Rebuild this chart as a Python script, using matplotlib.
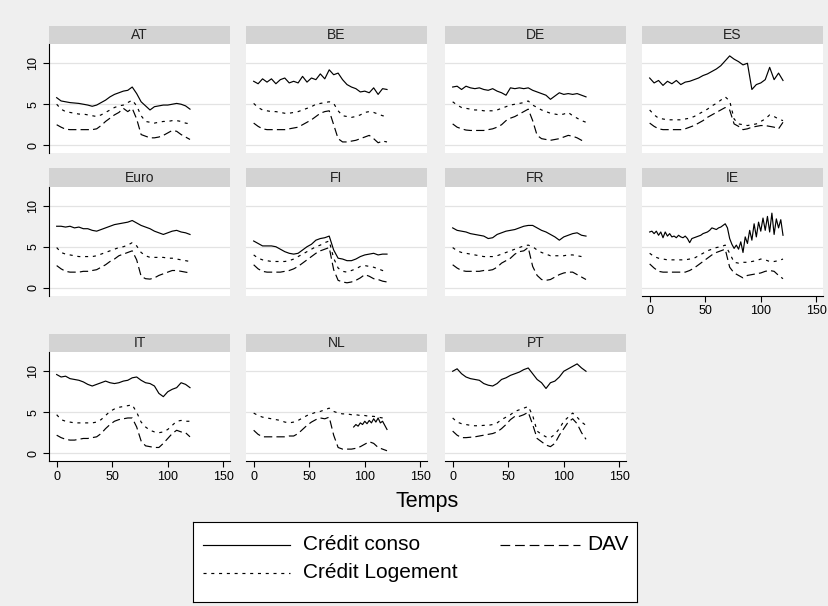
import matplotlib
matplotlib.use("Agg")
import matplotlib.pyplot as plt
import numpy as np

plt.rcParams['font.family'] = ['Liberation Sans', 'DejaVu Sans']
plt.rcParams['lines.scale_dashes'] = False

# ---------------- data ----------------
T4 = list(range(0, 121, 4))
T2 = list(range(0, 121, 2))
NL_T_CONSO = list(range(90, 121, 2))

countries = ["AT", "BE", "DE", "ES", "Euro", "FI", "FR", "IE", "IT", "NL", "PT"]

conso = {
    "AT": [5.8, 5.4, 5.3, 5.2, 5.15, 5.1, 5.0, 4.9, 4.75, 4.9, 5.2, 5.5, 5.9, 6.2, 6.4, 6.6,
           6.7, 7.1, 6.3, 5.3, 4.8, 4.3, 4.7, 4.8, 4.9, 4.9, 5.0, 5.1, 5.0, 4.8, 4.4],
    "BE": [7.8, 7.5, 8.1, 7.7, 8.1, 7.5, 8.0, 8.2, 7.6, 7.8, 7.6, 8.4, 7.7, 8.2, 8.0, 8.7,
           8.1, 9.2, 8.6, 8.8, 8.0, 7.4, 7.1, 6.9, 6.5, 6.6, 6.4, 7.0, 6.2, 6.9, 6.8],
    "DE": [7.1, 7.2, 6.8, 7.2, 7.0, 6.9, 7.0, 6.8, 6.7, 6.9, 6.6, 6.4, 6.1, 7.0, 6.9, 7.0,
           6.9, 7.0, 6.7, 6.5, 6.3, 6.1, 5.6, 6.0, 6.4, 6.2, 6.3, 6.2, 6.3, 6.1, 5.9],
    "ES": [8.2, 7.6, 7.9, 7.3, 7.8, 7.5, 7.9, 7.4, 7.7, 7.8, 8.0, 8.2, 8.5, 8.7, 9.0, 9.3,
           9.7, 10.3, 10.9, 10.5, 10.2, 9.8, 10.0, 6.8, 7.4, 7.6, 8.0, 9.5, 8.0, 8.8, 7.9],
    "Euro": [7.5, 7.5, 7.4, 7.5, 7.3, 7.4, 7.2, 7.2, 7.0, 6.9, 7.1, 7.3, 7.5, 7.7, 7.8, 7.9,
             8.0, 8.2, 7.9, 7.6, 7.4, 7.2, 6.9, 6.7, 6.5, 6.7, 6.9, 7.0, 6.8, 6.7, 6.5],
    "FI": [5.7, 5.4, 5.1, 5.1, 5.1, 5.0, 4.7, 4.4, 4.2, 4.1, 4.2, 4.6, 5.0, 5.3, 5.8, 6.0,
           6.1, 6.3, 4.6, 3.6, 3.5, 3.3, 3.3, 3.5, 3.8, 4.0, 4.1, 4.2, 4.0, 4.1, 4.1],
    "FR": [7.3, 7.0, 6.9, 6.8, 6.6, 6.5, 6.4, 6.3, 6.0, 6.1, 6.5, 6.7, 6.9, 7.0, 7.1, 7.3,
           7.5, 7.6, 7.6, 7.3, 7.0, 6.8, 6.5, 6.2, 5.8, 6.2, 6.4, 6.6, 6.7, 6.4, 6.3],
    "IT": [9.6, 9.3, 9.4, 9.1, 9.0, 8.9, 8.7, 8.4, 8.2, 8.4, 8.6, 8.8, 8.6, 8.5, 8.6, 8.8,
           8.9, 9.2, 9.3, 8.9, 8.6, 8.5, 8.2, 7.3, 6.9, 7.5, 7.8, 8.0, 8.6, 8.4, 8.0],
    "PT": [10.0, 10.3, 9.7, 9.3, 9.1, 9.0, 8.9, 8.5, 8.3, 8.2, 8.5, 9.0, 9.2, 9.5, 9.7, 9.9,
           10.2, 10.4, 9.7, 9.0, 8.6, 7.9, 8.6, 8.8, 9.3, 10.0, 10.3, 10.6, 10.9, 10.4, 10.0],
}
# Ireland consumer credit is much noisier: read every 2 months
conso_IE = [6.8, 6.9, 6.6, 6.9, 6.4, 6.8, 6.1, 6.8, 6.3, 6.6, 6.2, 6.3, 6.1, 6.4, 6.2, 6.1,
            6.3, 6.0, 5.5, 6.0, 6.1, 6.2, 6.3, 6.4, 6.6, 6.7, 6.8, 7.0, 7.3, 7.2, 7.1, 7.3,
            7.4, 7.6, 7.8, 7.3, 6.0, 5.3, 4.8, 5.2, 4.7, 5.6, 4.3, 6.2, 5.4, 7.0, 5.8, 7.8,
            6.2, 8.0, 6.9, 8.5, 7.0, 8.7, 6.8, 9.1, 6.5, 8.4, 7.3, 8.3, 6.4]
# Netherlands consumer credit only available from t = 90
conso_NL = [3.2, 3.5, 3.3, 3.7, 3.5, 3.9, 3.6, 4.0, 3.7, 4.2, 3.8, 4.3, 3.7, 3.9, 3.4, 2.9]

logement = {
    "AT": [5.0, 4.4, 4.1, 4.0, 3.9, 3.8, 3.8, 3.7, 3.6, 3.5, 3.7, 4.0, 4.3, 4.6, 4.8, 4.9,
           5.2, 5.5, 4.8, 3.6, 2.9, 2.8, 2.7, 2.8, 2.9, 2.9, 3.0, 3.0, 2.9, 2.7, 2.6],
    "BE": [5.1, 4.6, 4.3, 4.2, 4.1, 4.1, 4.0, 3.9, 3.9, 4.0, 4.1, 4.3, 4.5, 4.7, 5.0, 5.1,
           5.2, 5.3, 5.1, 4.2, 3.6, 3.5, 3.4, 3.5, 3.7, 4.0, 4.1, 4.0, 3.8, 3.6, 3.5],
    "DE": [5.3, 4.9, 4.6, 4.5, 4.4, 4.3, 4.3, 4.2, 4.2, 4.2, 4.3, 4.5, 4.7, 4.9, 5.0, 5.1,
           5.2, 5.4, 4.9, 4.6, 4.3, 4.1, 3.9, 3.8, 3.7, 3.8, 4.0, 3.6, 3.3, 3.0, 2.8],
    "ES": [4.3, 3.7, 3.3, 3.2, 3.1, 3.1, 3.1, 3.1, 3.2, 3.3, 3.5, 3.8, 4.1, 4.4, 4.8, 5.1,
           5.5, 5.9, 5.4, 3.2, 2.6, 2.5, 2.4, 2.5, 2.6, 2.9, 3.2, 3.7, 3.5, 3.2, 3.0],
    "Euro": [4.9, 4.3, 4.1, 4.0, 3.9, 3.8, 3.8, 3.8, 3.8, 3.9, 4.1, 4.3, 4.5, 4.7, 4.9, 5.0,
             5.2, 5.5, 5.1, 4.3, 3.9, 3.7, 3.7, 3.7, 3.7, 3.6, 3.6, 3.5, 3.4, 3.3, 3.2],
    "FI": [4.0, 3.6, 3.4, 3.3, 3.2, 3.2, 3.2, 3.2, 3.3, 3.5, 3.8, 4.1, 4.4, 4.7, 5.0, 5.2,
           5.5, 5.7, 3.6, 2.4, 2.0, 1.9, 2.1, 2.3, 2.6, 2.7, 2.6, 2.5, 2.3, 2.1, 1.9],
    "FR": [4.9, 4.5, 4.3, 4.2, 4.1, 4.0, 3.9, 3.8, 3.8, 3.8, 3.9, 4.1, 4.3, 4.5, 4.7, 4.9,
           5.1, 5.2, 5.0, 4.6, 4.3, 4.1, 3.9, 3.9, 3.9, 3.9, 4.0, 4.0, 3.9, 3.8, 3.7],
    "IE": [4.2, 3.8, 3.6, 3.5, 3.4, 3.4, 3.4, 3.4, 3.4, 3.5, 3.6, 3.9, 4.2, 4.5, 4.7, 4.9,
           5.0, 5.2, 4.2, 3.1, 3.0, 3.1, 3.1, 3.2, 3.3, 3.5, 3.4, 3.2, 3.2, 3.3, 3.5],
    "IT": [4.7, 4.1, 3.9, 3.8, 3.7, 3.7, 3.7, 3.7, 3.7, 3.8, 4.1, 4.6, 5.1, 5.4, 5.6, 5.7,
           5.8, 5.9, 5.0, 3.8, 3.2, 2.8, 2.6, 2.5, 2.6, 2.9, 3.4, 3.9, 4.0, 3.9, 3.9],
    "NL": [4.9, 4.6, 4.4, 4.3, 4.2, 4.1, 4.0, 3.8, 3.7, 3.8, 4.0, 4.3, 4.6, 4.8, 5.0, 5.1,
           5.3, 5.5, 5.1, 4.9, 4.8, 4.8, 4.7, 4.7, 4.6, 4.6, 4.5, 4.5, 4.4, 4.3, 4.1],
    "PT": [4.3, 3.8, 3.6, 3.5, 3.4, 3.35, 3.35, 3.4, 3.4, 3.5, 3.7, 4.1, 4.4, 4.7, 5.1, 5.3,
           5.5, 5.7, 4.6, 2.7, 2.3, 2.0, 1.9, 2.3, 3.0, 3.9, 4.4, 4.9, 4.4, 3.8, 3.4],
}

dav = {
    "AT": [2.5, 2.2, 1.95, 1.9, 1.9, 1.9, 1.9, 1.9, 1.9, 2.0, 2.4, 2.9, 3.3, 3.7, 4.0, 4.5,
           4.1, 4.5, 3.2, 1.3, 1.1, 0.9, 0.9, 1.0, 1.2, 1.5, 1.8, 1.7, 1.3, 1.0, 0.7],
    "BE": [2.7, 2.3, 2.0, 1.9, 1.9, 1.9, 1.9, 1.9, 2.0, 2.1, 2.2, 2.5, 2.8, 3.1, 3.5, 3.9,
           4.1, 4.2, 2.5, 0.8, 0.4, 0.4, 0.5, 0.6, 0.8, 1.0, 1.2, 0.8, 0.3, 0.5, 0.4],
    "DE": [2.6, 2.2, 2.0, 1.85, 1.8, 1.8, 1.8, 1.8, 1.9, 2.0, 2.2, 2.5, 3.0, 3.3, 3.5, 3.8,
           4.1, 4.4, 3.0, 1.2, 0.8, 0.7, 0.6, 0.7, 0.8, 1.0, 1.2, 1.1, 0.9, 0.6, 0.4],
    "ES": [2.7, 2.3, 2.0, 1.9, 1.9, 1.9, 1.9, 1.9, 2.0, 2.2, 2.4, 2.7, 3.0, 3.4, 3.7, 4.0,
           4.3, 4.6, 4.3, 2.6, 2.3, 1.9, 2.0, 2.2, 2.3, 2.4, 2.4, 2.3, 2.2, 2.0, 2.8],
    "Euro": [2.7, 2.3, 2.0, 1.9, 1.9, 1.9, 2.0, 2.0, 2.1, 2.2, 2.5, 2.8, 3.2, 3.5, 3.9, 4.1,
             4.3, 4.5, 3.4, 1.4, 1.1, 1.05, 1.2, 1.5, 1.7, 1.9, 2.1, 2.1, 2.0, 1.9, 1.8],
    "FI": [2.8, 2.3, 2.0, 1.9, 1.9, 1.9, 1.9, 2.0, 2.1, 2.3, 2.6, 3.0, 3.4, 3.8, 4.2, 4.5,
           4.7, 4.9, 2.2, 0.9, 0.7, 0.6, 0.7, 0.9, 1.2, 1.6, 1.4, 1.1, 1.0, 0.8, 0.7],
    "FR": [2.8, 2.4, 2.1, 2.0, 2.0, 2.0, 2.0, 2.1, 2.1, 2.2, 2.5, 3.0, 3.3, 3.6, 4.1, 4.4,
           4.5, 4.9, 2.6, 1.5, 1.0, 0.9, 1.0, 1.3, 1.6, 1.8, 1.9, 1.9, 1.6, 1.3, 1.0],
    "IE": [2.9, 2.4, 2.0, 1.9, 1.9, 1.9, 1.9, 1.9, 1.9, 2.1, 2.4, 2.8, 3.2, 3.6, 4.0, 4.3,
           4.5, 4.7, 2.5, 1.8, 1.5, 1.2, 1.5, 1.6, 1.7, 1.8, 2.0, 2.1, 2.0, 1.5, 1.1],
    "IT": [2.2, 1.9, 1.7, 1.6, 1.6, 1.7, 1.8, 1.8, 1.9, 2.0, 2.4, 3.0, 3.5, 3.9, 4.1, 4.2,
           4.3, 4.3, 3.2, 1.5, 0.9, 0.8, 0.7, 0.7, 1.2, 1.8, 2.4, 2.8, 2.6, 2.5, 2.0],
    "NL": [2.8, 2.3, 2.0, 2.0, 2.0, 2.0, 2.0, 2.0, 2.1, 2.1, 2.4, 2.9, 3.4, 3.8, 4.1, 4.3,
           4.2, 4.4, 2.2, 0.7, 0.5, 0.5, 0.5, 0.6, 0.8, 1.1, 1.4, 1.2, 0.7, 0.5, 0.3],
    "PT": [2.7, 2.2, 1.9, 1.9, 1.95, 2.0, 2.1, 2.2, 2.3, 2.4, 2.6, 3.0, 3.5, 4.1, 4.5, 4.5,
           4.7, 5.0, 3.5, 1.8, 1.4, 1.0, 0.8, 1.2, 2.2, 3.0, 3.8, 4.2, 3.6, 2.5, 1.7],
}

series_labels = ["Crédit conso", "Crédit Logement", "DAV"]
x_ticks = [0, 50, 100, 150]
y_ticks = [0, 5, 10]
x_label = "Temps"

# ---------------- layout ----------------
W, H = 829, 606
fig = plt.figure(figsize=(W / 100, H / 100), dpi=100)
BG = "#EFEFEF"
STRIP = "#D3D3D3"
GRID = "#E3E3E3"
fig.patch.set_facecolor(BG)


def rect(left, top, w, h):
    return [left / W, 1 - (top + h) / H, w / W, h / H]


col_left = [49, 246, 445, 642]
panel_w = 181
row_strip_top = [26, 168.5, 334]
strip_h = 18
plot_h = 109

LS_DOT = (0, (2.2, 3.4))
LS_DASH = (0, (6.0, 3.0))
LW = 0.85

positions = [(0, 0), (0, 1), (0, 2), (0, 3),
             (1, 0), (1, 1), (1, 2), (1, 3),
             (2, 0), (2, 1), (2, 2)]

for name, (r, c) in zip(countries, positions):
    left = col_left[c]
    top = row_strip_top[r]
    sax = fig.add_axes(rect(left, top, panel_w, strip_h))
    sax.set_facecolor(STRIP)
    sax.set_xticks([]); sax.set_yticks([])
    for s in sax.spines.values():
        s.set_visible(False)
    sax.text(0.5, 0.5, name, ha="center", va="center", fontsize=10, color="#222222",
             transform=sax.transAxes)

    ax = fig.add_axes(rect(left, top + strip_h, panel_w, plot_h))
    ax.set_facecolor("white")
    ax.set_xlim(-6.9, 156)
    ax.set_ylim(-0.95, 12.35)
    for yv in y_ticks:
        ax.axhline(yv, color=GRID, lw=0.9, zorder=0)

    if name == "IE":
        ax.plot(T2, conso_IE, color="black", lw=LW)
    elif name == "NL":
        ax.plot(NL_T_CONSO, conso_NL, color="black", lw=LW)
    else:
        ax.plot(T4, conso[name], color="black", lw=LW)
    ax.plot(T4, logement[name], color="black", lw=LW, linestyle=LS_DOT)
    ax.plot(T4, dav[name], color="black", lw=LW, linestyle=LS_DASH)

    for s in ax.spines.values():
        s.set_visible(False)

    show_y = (c == 0)
    show_x = (r == 2) or (name == "IE")
    if show_y:
        ax.spines["left"].set_visible(True)
        ax.spines["left"].set_color("black")
        ax.spines["left"].set_linewidth(0.8)
        ax.set_yticks(y_ticks)
        ax.set_yticklabels([str(v) for v in y_ticks], rotation=90, va="center")
        ax.tick_params(axis="y", length=4, width=0.8, pad=3, labelsize=9, colors="black")
    else:
        ax.set_yticks([])
    if show_x:
        ax.spines["bottom"].set_visible(True)
        ax.spines["bottom"].set_color("black")
        ax.spines["bottom"].set_linewidth(0.8)
        ax.set_xticks(x_ticks)
        ax.set_xticklabels([str(v) for v in x_ticks])
        ax.tick_params(axis="x", length=4, width=0.8, pad=3, labelsize=9, colors="black")
    else:
        ax.set_xticks([])

# x label
fig.text(427 / W, 1 - 502 / H, x_label, ha="center", va="center", fontsize=15.5)

# legend box
lax = fig.add_axes(rect(193, 522, 444, 80))
lax.set_xlim(193, 637)
lax.set_ylim(602, 522)
lax.set_facecolor("white")
lax.set_xticks([]); lax.set_yticks([])
for s in lax.spines.values():
    s.set_color("black"); s.set_linewidth(0.8)
lax.plot([203, 290], [545, 545], color="black", lw=LW)
lax.text(303, 545, series_labels[0], ha="left", va="center", fontsize=15)
lax.plot([203, 290], [573, 573], color="black", lw=LW, linestyle=LS_DOT)
lax.text(303, 573, series_labels[1], ha="left", va="center", fontsize=15)
lax.plot([500, 580], [545, 545], color="black", lw=LW, linestyle=(0, (7, 3.5)))
lax.text(587, 545, series_labels[2], ha="left", va="center", fontsize=15)

fig.savefig("out.png", dpi=100, facecolor=BG)
